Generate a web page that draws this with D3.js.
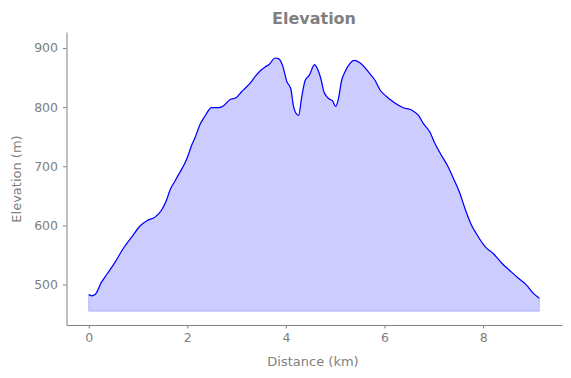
<!DOCTYPE html>
<html><head><meta charset="utf-8">
<script src="https://cdn.jsdelivr.net/npm/d3@7"></script>
<style>body{margin:0;background:#fff}svg{display:block}text{font-family:"DejaVu Sans",sans-serif}</style>
</head><body><svg id="c" width="571" height="378"></svg>
<script>
const distanceKm = [0,0.06,0.13,0.26,0.365,0.53,0.70,0.87,1.04,1.18,1.345,1.48,1.58,1.65,1.75,1.85,1.95,2.02,2.09,2.16,2.26,2.36,2.49,2.63,2.73,2.87,2.99,3.10,3.27,3.37,3.475,3.58,3.66,3.78,3.85,3.93,4.02,4.10,4.15,4.20,4.26,4.32,4.39,4.475,4.58,4.64,4.71,4.77,4.86,4.95,5.01,5.06,5.13,5.20,5.30,5.38,5.50,5.67,5.81,5.91,6.04,6.21,6.38,6.55,6.69,6.79,6.92,7.02,7.13,7.29,7.40,7.53,7.63,7.75,7.87,8.04,8.21,8.38,8.55,8.71,8.88,9.02,9.14];
const elevationM = [483,481,483,504,517,537,561,580,599,608,614,626,643,660,675,690,705,719,736,749,771,785,799,799,802,813,816,826,840,851,861,868,872,883,882,871,843,831,803,790,786,817,845,854,872,865,848,826,815,810,801,812,845,860,874,879,875,860,845,829,818,807,799,795,786,772,758,739,722,699,679,654,629,603,585,564,552,536,523,511,499,485,477];
const baseElevation = 455;
const xTicks = [0,2,4,6,8];
const yTicks = [500,600,700,800,900];

const svg = d3.select('#c');
const gray = '#808080';
const x = d3.scaleLinear().domain([-0.45, 9.6]).range([66.5, 562]);
const y = d3.scaleLinear().domain([431.6, 927]).range([325, 32]);
const pts = distanceKm.map((d,i)=>({d, e: elevationM[i]}));

svg.append('path').datum(pts)
  .attr('d', d3.area().x(p=>x(p.d)).y0(y(baseElevation)).y1(p=>y(p.e)))
  .attr('fill','blue').attr('fill-opacity',0.2)
  .attr('stroke','blue').attr('stroke-opacity',0.2).attr('stroke-width',1);
svg.append('path').datum(pts)
  .attr('d', d3.line().x(p=>x(p.d)).y(p=>y(p.e)).curve(d3.curveMonotoneX))
  .attr('fill','none').attr('stroke','blue').attr('stroke-width',1.2);

const xa = svg.append('g').attr('transform','translate(0,325)')
  .call(d3.axisBottom(x).tickValues(xTicks).tickFormat(d3.format('d')).tickSizeInner(3.5).tickSizeOuter(0).tickPadding(5));
const ya = svg.append('g').attr('transform','translate(66.5,0)')
  .call(d3.axisLeft(y).tickValues(yTicks).tickFormat(d3.format('d')).tickSizeInner(3.5).tickSizeOuter(0).tickPadding(5));
[xa,ya].forEach(a=>{
  a.select('.domain').attr('stroke',gray).attr('stroke-width',1);
  a.selectAll('.tick line').attr('stroke',gray);
  a.selectAll('.tick text').attr('fill',gray).attr('font-size','12.5px').attr('font-family','DejaVu Sans');
});
svg.append('text').attr('x',314).attr('y',24).attr('text-anchor','middle')
  .attr('font-size','16px').attr('font-weight','bold').attr('fill',gray).text('Elevation');
svg.append('text').attr('x',313).attr('y',366).attr('text-anchor','middle')
  .attr('font-size','13px').attr('fill',gray).text('Distance (km)');
svg.append('text').attr('transform','translate(21,179) rotate(-90)').attr('text-anchor','middle')
  .attr('font-size','13px').attr('fill',gray).text('Elevation (m)');
</script></body></html>
